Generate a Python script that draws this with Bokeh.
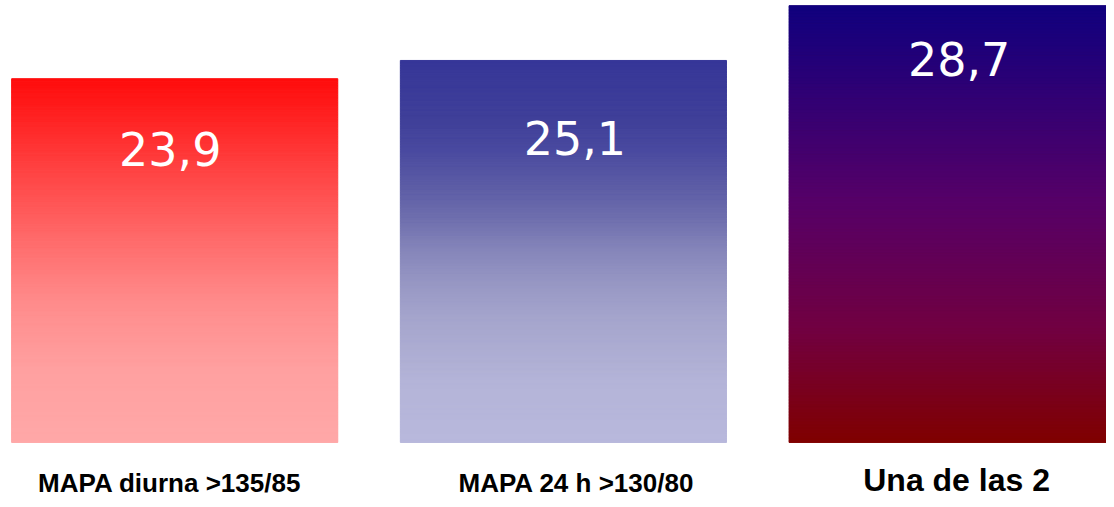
import numpy as np
from bokeh.plotting import figure
from bokeh.models import Range1d, ColumnDataSource
from bokeh.core.properties import value
from bokeh.embed import file_html
from bokeh.resources import INLINE

# ---------------- data ----------------
categories = ["MAPA diurna >135/85", "MAPA 24 h >130/80", "Una de las 2"]
values = [23.9, 25.1, 28.7]
value_labels = ["23,9", "25,1", "28,7"]

# ---------------- styling ----------------
W, H = 1106, 499
X_START, X_END = -0.4482, 2.3972
Y_START, Y_END = -3.753, 29.04
BAR_WIDTH = 0.839
PX_X = W / (X_END - X_START)
PX_Y = H / (Y_END - Y_START)

# gradient stops: (fraction from top of bar, colour)
gradient_stops = [
    [(0.0, "#FF0C0C"), (0.08, "#FF1C1C"), (0.26, "#FF4444"), (0.44, "#FF6A6A"),
     (0.62, "#FF8C8C"), (0.8, "#FFA0A0"), (1.0, "#FFA8A8")],
    [(0.0, "#363698"), (0.16, "#404099"), (0.24, "#4A4AA0"), (0.33, "#5C5CA5"),
     (0.42, "#7070AE"), (0.5, "#8686BA"), (0.59, "#9898C4"), (0.67, "#A4A4CC"),
     (0.84, "#B4B4D8"), (1.0, "#B8B8DC")],
    [(0.0, "#10007F"), (0.45, "#560068"), (0.75, "#720040"), (1.0, "#800000")],
]
value_dx_px = [-4.5, 11.5, 7.0]
value_drop_px = [70.6, 77.5, 53.6]
cat_dx_px = [-5.0, 13.0, 4.5]
cat_below_px = [40.5, 40.5, 37.5]
cat_font_sizes = ["26px", "26px", "32px"]
N_SLICES = 150


def hex_to_rgb(h):
    h = h.lstrip("#")
    return np.array([int(h[i:i + 2], 16) for i in (0, 2, 4)], dtype=float)


def interp_color(stops, t):
    ts = [s[0] for s in stops]
    cols = [hex_to_rgb(s[1]) for s in stops]
    for i in range(len(ts) - 1):
        if ts[i] <= t <= ts[i + 1]:
            f = (t - ts[i]) / (ts[i + 1] - ts[i])
            c = cols[i] + f * (cols[i + 1] - cols[i])
            return "#%02X%02X%02X" % tuple(int(round(v)) for v in c)
    c = cols[-1]
    return "#%02X%02X%02X" % tuple(int(round(v)) for v in c)


p = figure(width=W, height=H,
           x_range=Range1d(X_START, X_END), y_range=Range1d(Y_START, Y_END),
           output_backend="svg", toolbar_location=None,
           x_axis_location=None, y_axis_location=None,
           min_border=0, min_border_left=0, min_border_right=0,
           min_border_top=0, min_border_bottom=0)
p.grid.visible = False
p.outline_line_color = None
p.background_fill_color = "white"
p.border_fill_color = "white"

xs = list(range(len(values)))

# base bars (bottom colour)
p.vbar(x=xs, top=values, bottom=0, width=BAR_WIDTH,
       fill_color=[s[-1][1] for s in gradient_stops], line_color=None)

# gradient slices
gx, gtop, gbot, gcol = [], [], [], []
for i, v in enumerate(values):
    for k in range(N_SLICES):
        t = (k + 0.5) / N_SLICES
        gx.append(xs[i])
        gtop.append(v * (1 - k / N_SLICES))
        gbot.append(v * (1 - (k + 1) / N_SLICES))
        gcol.append(interp_color(gradient_stops[i], t))
p.vbar(x=gx, top=gtop, bottom=gbot, width=BAR_WIDTH,
       fill_color=gcol, line_color=gcol, line_width=1)

# value labels
vsrc = ColumnDataSource(dict(
    x=[xs[i] + value_dx_px[i] / PX_X for i in range(len(values))],
    y=[values[i] - value_drop_px[i] / PX_Y for i in range(len(values))],
    text=value_labels,
))
p.text(x="x", y="y", text="text", source=vsrc,
       text_font=value("DejaVu Sans"), text_font_size=value("46px"),
       text_color="white", text_align="center", text_baseline="alphabetic")

# category labels
csrc = ColumnDataSource(dict(
    x=[xs[i] + cat_dx_px[i] / PX_X for i in range(len(values))],
    y=[-cat_below_px[i] / PX_Y for i in range(len(values))],
    text=categories,
    size=cat_font_sizes,
))
p.text(x="x", y="y", text="text", source=csrc,
       text_font=value("Liberation Sans"), text_font_size="size",
       text_font_style="bold", text_color="black",
       text_align="center", text_baseline="alphabetic")

open("out.html", "w").write(file_html(p, INLINE))
